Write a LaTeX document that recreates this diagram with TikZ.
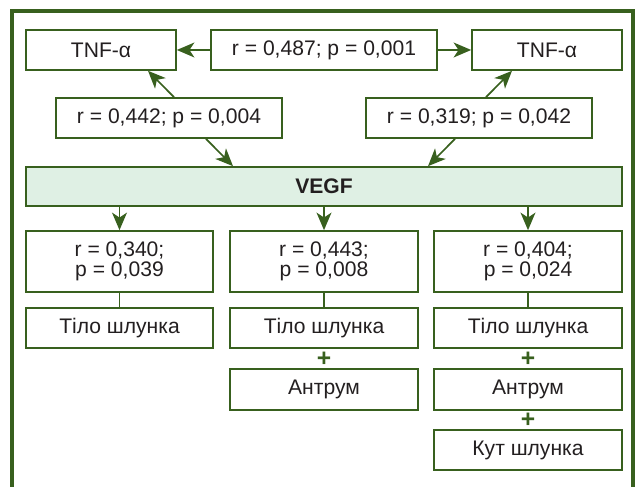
\documentclass[tikz,border=0pt]{standalone}
\usepackage{fontspec}
\setmainfont{Liberation Sans}
\usetikzlibrary{arrows.meta,calc}
\definecolor{frgreen}{RGB}{56,96,30}
\definecolor{vegffill}{RGB}{223,240,228}
\definecolor{txtgray}{RGB}{35,31,32}
\tikzset{
  box/.style={draw=frgreen, line width=0.95pt, fill=white, text=txtgray,
    inner sep=0pt, minimum height=0.8cm, align=center,
    font=\fontsize{12}{11.7}\selectfont},
  arr/.style={draw=frgreen, line width=0.95pt,
    -{Stealth[length=10pt,width=8.5pt,inset=2.8pt]}},
  link/.style={draw=frgreen, line width=0.95pt},
  plus/.style={text=frgreen, inner sep=0pt,
    font=\bfseries\fontsize{14}{14}\selectfont},
}
\begin{document}
\begin{tikzpicture}
    \def\x{0.02}
    \def\y{-0.02}
    \useasboundingbox (0,0) rectangle (640*\x, 487*\y);
    % frame, open at the bottom
    \draw[frgreen, line width=1.9pt] (12*\x, 487*\y) -- (12*\x, 11*\y) -- (633*\x, 11*\y) -- (633*\x, 487*\y);
    % top row
    \node[box, minimum width=3cm] (A1_0) at (101*\x, 50*\y) {TNF-α};
    \node[box, minimum width=4.52cm] (A1_1) at (324*\x, 50*\y) {r = 0,487; p = 0,001};
    \node[box, minimum width=3cm] (A1_2) at (547*\x, 50*\y) {TNF-α};
    \node[box, minimum width=4.52cm] (A2_0) at (169*\x, 118*\y) {r = 0,442; p = 0,004};
    \node[box, minimum width=4.52cm] (A2_1) at (479*\x, 118*\y) {r = 0,319; p = 0,042};
    % VEGF band
    \node[box, fill=vegffill, minimum width=11.92cm, minimum height=0.78cm, font=\bfseries\fontsize{12}{12}\selectfont] (A3_0) at (324*\x, 186.5*\y) {VEGF};
    % correlations
    \node[box, minimum width=3.74cm, minimum height=1.22cm] (A4_0) at (119.5*\x, 261.5*\y) {r = 0,340;\\p = 0,039};
    \node[box, minimum width=3.76cm, minimum height=1.22cm] (A4_1) at (324*\x, 261.5*\y) {r = 0,443;\\p = 0,008};
    \node[box, minimum width=3.76cm, minimum height=1.22cm] (A4_2) at (528*\x, 261.5*\y) {r = 0,404;\\p = 0,024};
    % regions
    \node[box, minimum width=3.74cm] (A5_0) at (119.5*\x, 328*\y) {Тіло шлунка};
    \node[box, minimum width=3.76cm] (A5_1) at (324*\x, 328*\y) {Тіло шлунка};
    \node[box, minimum width=3.76cm] (A5_2) at (528*\x, 328*\y) {Тіло шлунка};
    \node[plus] (P1) at (324*\x, 359*\y) {+};
    \node[plus] (P2) at (528*\x, 359*\y) {+};
    \node[box, minimum width=3.76cm, minimum height=0.82cm] (A6_1) at (324*\x, 389.5*\y) {Антрум};
    \node[box, minimum width=3.76cm, minimum height=0.82cm] (A6_2) at (528*\x, 389.5*\y) {Антрум};
    \node[plus] (P3) at (528*\x, 420*\y) {+};
    \node[box, minimum width=3.76cm] (A7_2) at (528*\x, 450*\y) {Кут шлунка};
    % connectors
    \path (A1_1) edge [arr] (A1_0);
    \path (A1_1) edge [arr] (A1_2);
    \path ($(A2_0.north)+(5*\x,0)$) edge [arr] ($(A1_0.south)+(47*\x,0)$);
    \path ($(A2_0.south)+(37*\x,0)$) edge [arr] ($(A3_0.north)+(-91*\x,0)$);
    \path ($(A2_1.north)+(7*\x,0)$) edge [arr] ($(A1_2.south)+(-35*\x,0)$);
    \path ($(A2_1.south)+(-24*\x,0)$) edge [arr] ($(A3_0.north)+(104*\x,0)$);
    \path (A3_0.south -| A4_0.north) edge [arr] (A4_0.north);
    \path (A3_0.south -| A4_1.north) edge [arr] (A4_1.north);
    \path (A3_0.south -| A4_2.north) edge [arr] (A4_2.north);
    \path (A4_0) edge [link] (A5_0);
    \path (A4_1) edge [link] (A5_1);
    \path (A4_2) edge [link] (A5_2);
  \end{tikzpicture}
\end{document}
